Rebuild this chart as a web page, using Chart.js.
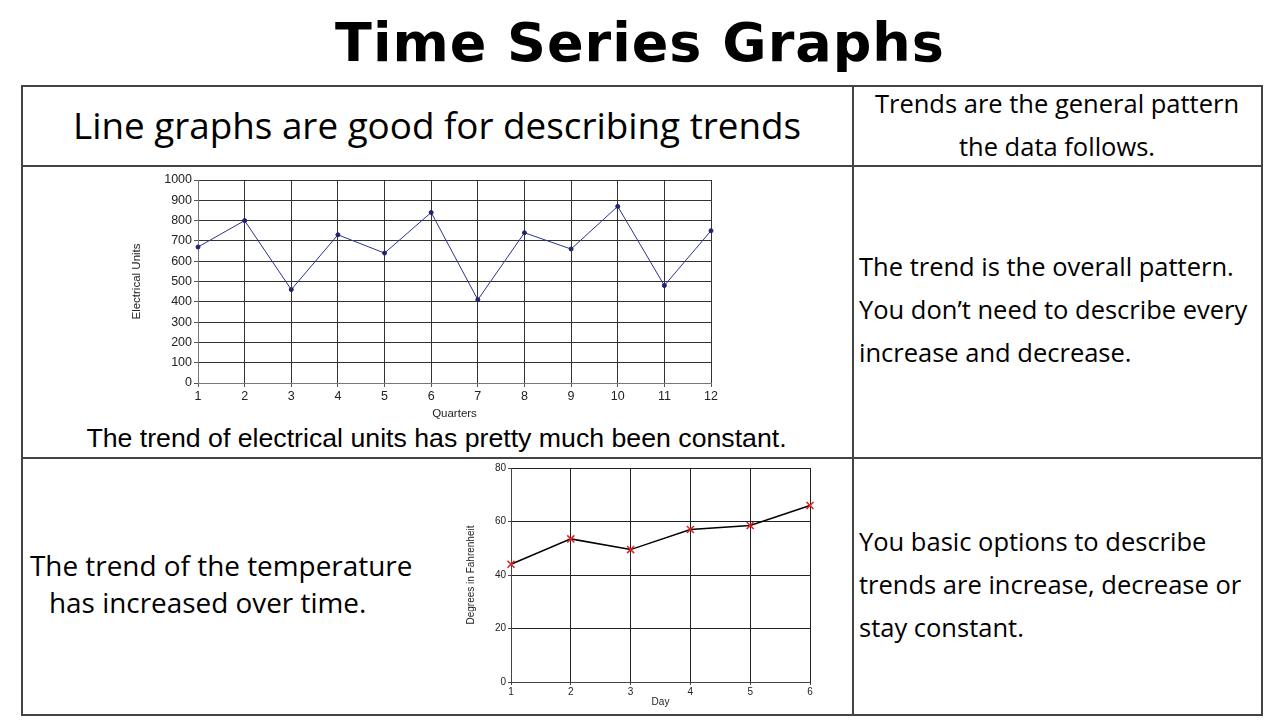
<!DOCTYPE html>
<html>
<head>
<meta charset="utf-8">
<script src="https://cdn.jsdelivr.net/npm/chart.js@4"></script>
<style>
  html, body { margin: 0; padding: 0; background: #fff; }
  #page { position: relative; width: 1280px; height: 720px; overflow: hidden; font-family: "Open Sans", Lato, sans-serif; color: #000; }
  .txt { position: absolute; white-space: nowrap; }
  .hline, .vline { position: absolute; background: #444; }
  .hline { height: 1.5px; }
  .vline { width: 1.5px; }
  #title { left: 0; width: 1280px; top: 11px; text-align: center; font-family: "DejaVu Sans", sans-serif; font-weight: bold; font-size: 54px; letter-spacing: 1px; }
  .big { font-size: 36.8px; }
  .mid { font-size: 27.9px; }
  .side { font-size: 25.5px; line-height: 43px; }
  canvas { position: absolute; }
</style>
</head>
<body>
<div id="page">
  <div id="title" class="txt">Time Series Graphs</div>

  <!-- table frame -->
  <div class="hline" style="left:21px; top:85px; width:1242px;"></div>
  <div class="hline" style="left:21px; top:165px; width:1242px;"></div>
  <div class="hline" style="left:21px; top:457px; width:1242px;"></div>
  <div class="hline" style="left:21px; top:714px; width:1242px;"></div>
  <div class="vline" style="left:21px; top:85px; height:630px;"></div>
  <div class="vline" style="left:852px; top:85px; height:630px;"></div>
  <div class="vline" style="left:1261px; top:85px; height:630px;"></div>

  <div class="txt big" style="left:73px; top:100px;">Line graphs are good for describing trends</div>
  <div class="txt side" style="left:852px; width:410px; top:82px; text-align:center;">Trends are the general pattern<br>the data follows.</div>

  <div class="txt side" style="left:859px; top:245px;">The trend is the overall pattern.<br>You don’t need to describe every<br>increase and decrease.</div>

  <div class="txt" style="left:21px; width:831px; top:423px; text-align:center; font-family:'Liberation Sans', Arial, sans-serif; font-size:26.7px;">The trend of electrical units has pretty much been constant.</div>

  <div class="txt mid" style="left:30px; top:546px;">The trend of the temperature</div>
  <div class="txt mid" style="left:49px; top:583px;">has increased over time.</div>

  <div class="txt side" style="left:859px; top:520px;">You basic options to describe<br>trends are increase, decrease or<br>stay constant.</div>

  <canvas id="elecChart" style="left:130px; top:170px; width:600px; height:255px;"></canvas>
  <canvas id="tempChart" style="left:465px; top:460px; width:360px; height:252px;"></canvas>
</div>

<script>
// electrical units per quarter
const quarters = ["1", "2", "3", "4", "5", "6", "7", "8", "9", "10", "11", "12"];
const electricalUnits = [670, 800, 460, 730, 640, 840, 410, 740, 660, 870, 480, 750];
const elecTicks = [0, 100, 200, 300, 400, 500, 600, 700, 800, 900, 1000];

// temperature per day
const days = ["1", "2", "3", "4", "5", "6"];
const temperatures = [44, 53.5, 49.5, 57, 58.5, 66];
const tempTicks = [0, 20, 40, 60, 80];

Chart.defaults.font.family = "'Liberation Sans', Arial, sans-serif";
Chart.defaults.color = "#222";

const fixWidth = (w) => (scale) => { scale.width = w; };
const fixHeight = (h) => (scale) => { scale.height = h; };
const plainNumber = (v) => String(v);

const elecCanvas = document.getElementById("elecChart");
elecCanvas.width = 600; elecCanvas.height = 255;
const elecChart = new Chart(elecCanvas, {
    type: 'line',
    data: {
        labels: quarters,
        datasets: [{
            data: electricalUnits,
            borderColor: '#2e3192',
            borderWidth: 1,
            pointRadius: 2,
            pointBackgroundColor: '#1f2170',
            pointBorderColor: '#1f2170',
            tension: 0
        }]
    },
    options: {
        responsive: false,
        animation: false,
        devicePixelRatio: 1,
        layout: { padding: { top: 10, right: 19 } },
        plugins: { legend: { display: false }, tooltip: { enabled: false } },
        scales: {
            x: {
                offset: false,
                afterFit: fixHeight(42),
                grid: { color: '#333', lineWidth: 1, tickLength: 4, tickColor: '#555' },
                border: { color: '#777' },
                ticks: { font: { size: 12.5 }, maxRotation: 0, padding: 2 },
                title: { display: true, text: 'Quarters', font: { size: 11.5 }, padding: { top: 0 } }
            },
            y: {
                min: 0,
                max: 1000,
                afterFit: fixWidth(68),
                afterBuildTicks: (scale) => { scale.ticks = elecTicks.map(v => ({ value: v })); },
                grid: { color: '#333', lineWidth: 1, tickLength: 4, tickColor: '#555' },
                border: { color: '#777' },
                ticks: { font: { size: 12.5 }, padding: 2, callback: plainNumber },
                title: { display: true, text: 'Electrical Units', font: { size: 11.5 }, padding: 0 }
            }
        }
    }
});

const tempCanvas = document.getElementById("tempChart");
tempCanvas.width = 360; tempCanvas.height = 252;
const tempChart = new Chart(tempCanvas, {
    type: 'line',
    data: {
        labels: days,
        datasets: [{
            data: temperatures,
            borderColor: '#000',
            borderWidth: 1.5,
            pointStyle: 'crossRot',
            pointRadius: 5,
            pointBorderWidth: 1.5,
            pointBorderColor: '#e0201c',
            tension: 0
        }]
    },
    options: {
        responsive: false,
        animation: false,
        devicePixelRatio: 1,
        layout: { padding: { top: 8, right: 15 } },
        plugins: { legend: { display: false }, tooltip: { enabled: false } },
        scales: {
            x: {
                offset: false,
                afterFit: fixHeight(30),
                grid: { color: '#222', lineWidth: 1, tickLength: 3, tickColor: '#444' },
                border: { color: '#444' },
                ticks: { font: { size: 10 }, maxRotation: 0, padding: 1 },
                title: { display: true, text: 'Day', font: { size: 10 }, padding: { top: 0 } }
            },
            y: {
                min: 0,
                max: 80,
                afterFit: fixWidth(46),
                afterBuildTicks: (scale) => { scale.ticks = tempTicks.map(v => ({ value: v })); },
                grid: { color: '#222', lineWidth: 1, tickLength: 3, tickColor: '#444' },
                border: { color: '#444' },
                ticks: { font: { size: 10 }, padding: 2, callback: plainNumber },
                title: { display: true, text: 'Degrees in Fahrenheit', font: { size: 10 }, padding: 0 }
            }
        }
    }
});
</script>
</body>
</html>
